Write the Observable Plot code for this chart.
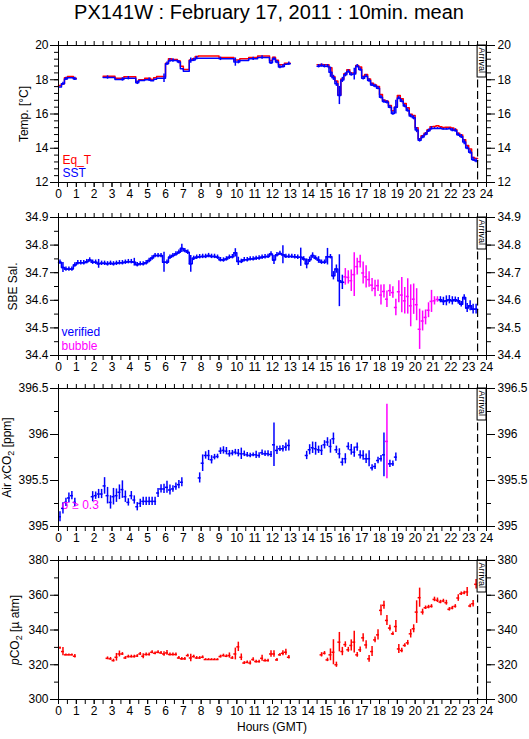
<!DOCTYPE html>
<html><head><meta charset="utf-8">
<script src="https://cdn.jsdelivr.net/npm/d3@7"></script>
<script src="https://cdn.jsdelivr.net/npm/@observablehq/plot@0.6"></script>
<style>
body{margin:0;background:#fff;}
#chart{position:relative;width:529px;height:739px;font-family:"Liberation Sans",Arial,Helvetica,sans-serif;color:#000;overflow:hidden;}
.panel{position:absolute;left:0;}
#title{position:absolute;left:0;width:538px;top:0;text-align:center;font-size:20px;line-height:24px;}
#xlabel{position:absolute;left:0;width:544px;top:719px;text-align:center;font-size:12px;line-height:16px;}
</style></head>
<body><div id="chart">
<div id="title">PX141W : February 17, 2011 : 10min. mean</div>
<div id="xlabel">Hours (GMT)</div>
</div>
<script>
// ---- data: 10-minute means, index i = bin starting at i/6 hours (GMT) ----
const binHours = 1 / 6;
const arrivalHour = 23.5;

// Panel 1: temperatures [°C]
const eqT = [
  17.67, 17.76, 18.11, 18.19, 18.19, 18.09,
  null, null, null, null, null, null,
  null, null, null, 18.21, 18.21, 18.21,
  18.21, 18.09, 18.09, 18.09, 18.17, 18.17,
  18.17, 18.17, 17.9, 18.0, 18.0, 18.09,
  18.09, 18.02, 18.11, 18.19, 18.19, 18.19,
  18.97, 19.22, 19.18, 19.18, 19.09, 18.79,
  18.6, 18.6, 19.16, 19.22, 19.36, 19.38,
  19.38, 19.38, 19.38, 19.38, 19.38, 19.38,
  19.3, 19.3, 19.3, 19.3, 19.3, 19.16,
  19.16, 19.22, 19.22, 19.22, 19.3, 19.3,
  19.3, 19.38, 19.38, 19.38, 19.38, 19.12,
  19.32, 19.14, 18.87, 18.87, 18.97, 18.97,
  null, null, null, null, null, null,
  null, null, null, 18.87, 18.89, 18.87,
  18.87, 18.7, 18.19, 17.92, 17.12, 18.05,
  18.35, 18.58, 18.39, 18.4, 18.83, 18.75,
  18.21, 18.31, 18.05, 17.8, 17.7, 17.61,
  17.14, 16.81, 16.75, 16.5, 16.19, 16.4,
  17.08, 16.89, 16.61, 16.36, 15.99, 15.91,
  15.19, 14.55, 14.73, 14.88, 15.08, 15.25,
  15.27, 15.31, 15.25, 15.21, 15.23, 15.23,
  15.18, 15.1, 14.88, 14.77, 14.49, 14.16,
  13.95, 13.46, 13.4
];
const sst = [
  17.57, 17.76, 18.05, 18.11, 18.11, 18.05,
  null, null, null, null, null, null,
  null, null, null, 18.13, 18.13, 18.13,
  18.13, 18.02, 18.02, 18.02, 18.09, 18.09,
  18.09, 18.09, 17.82, 17.96, 17.96, 18.0,
  18.0, 17.94, 18.03, 18.09, 18.09, 18.09,
  18.93, 19.12, 19.12, 19.12, 19.03, 18.64,
  18.5, 18.5, 19.12, 19.16, 19.26, 19.26,
  19.26, 19.26, 19.26, 19.26, 19.26, 19.26,
  19.22, 19.22, 19.22, 19.22, 19.22, 19.03,
  19.03, 19.12, 19.12, 19.12, 19.22, 19.22,
  19.22, 19.3, 19.3, 19.3, 19.3, 18.99,
  19.22, 19.03, 18.74, 18.78, 18.91, 18.93,
  null, null, null, null, null, null,
  null, null, null, 18.79, 18.83, 18.79,
  18.79, 18.44, 18.11, 17.76, 17.08, 17.99,
  18.29, 18.48, 18.31, 18.33, 18.79, 18.6,
  18.09, 18.21, 17.96, 17.7, 17.63, 17.51,
  16.98, 16.73, 16.69, 16.4, 16.03, 16.4,
  16.93, 16.75, 16.46, 16.21, 15.88, 15.78,
  15.06, 14.46, 14.65, 14.82, 15.02, 15.16,
  15.16, 15.16, 15.16, 15.12, 15.12, 15.14,
  15.06, 15.04, 14.79, 14.69, 14.36, 14.01,
  13.77, 13.35, 13.27
];
const sstSd = [
  0, 0.1, 0.1, 0, 0, 0.1,
  0, 0, 0, 0, 0, 0,
  0, 0, 0, 0, 0.1, 0,
  0, 0, 0, 0.1, 0, 0.1,
  0, 0, 0.1, 0, 0, 0,
  0.1, 0, 0, 0, 0, 0.25,
  0.1, 0.1, 0.1, 0, 0.1, 0,
  0, 0, 0.15, 0.1, 0.1, 0,
  0, 0, 0, 0, 0, 0,
  0.1, 0, 0, 0, 0, 0.24,
  0.1, 0, 0, 0, 0, 0.1,
  0, 0, 0.1, 0, 0, 0.1,
  0.1, 0.1, 0.1, 0.1, 0, 0.1,
  0, 0, 0, 0, 0, 0,
  0, 0, 0, 0.1, 0.1, 0.1,
  0.1, 0.3, 0.15, 0.15, 0.53, 0.15,
  0.12, 0.1, 0.1, 0.34, 0.1, 0.1,
  0.1, 0.1, 0.1, 0.1, 0.1, 0.1,
  0.1, 0.1, 0.1, 0.1, 0.1, 0.4,
  0.1, 0.1, 0.1, 0.1, 0.1, 0.12,
  0.15, 0.1, 0.1, 0.1, 0.1, 0.1,
  0.05, 0.05, 0.05, 0.05, 0.05, 0.05,
  0.1, 0.1, 0.1, 0.12, 0.15, 0.1,
  0.12, 0.12, 0.12
];

// Panel 2: SBE salinity
const salinity = [
  34.738, 34.719, 34.713, 34.713, 34.713, 34.728,
  34.736, 34.736, 34.736, 34.740, 34.746, 34.738,
  34.738, 34.732, 34.734, 34.734, 34.732, 34.734,
  34.732, 34.734, 34.736, 34.736, 34.738, 34.740,
  34.740, 34.738, 34.729, 34.732, 34.732, 34.736,
  34.744, 34.753, 34.762, 34.762, 34.762, 34.738,
  34.738, 34.756, 34.762, 34.768, 34.774, 34.788,
  34.780, 34.774, 34.732, 34.752, 34.756, 34.758,
  34.759, 34.759, 34.762, 34.759, 34.759, 34.756,
  34.747, 34.746, 34.750, 34.756, 34.758, 34.772,
  34.741, 34.741, 34.747, 34.747, 34.750, 34.750,
  34.752, 34.753, 34.756, 34.758, 34.759, 34.768,
  34.746, 34.765, 34.770, 34.765, 34.759, 34.759,
  34.759, 34.758, 34.756, 34.756, 34.750, 34.732,
  34.747, 34.762, 34.753, 34.746, 34.738, 34.738,
  34.758, 34.758, 34.689, 34.713, 34.671, 34.665,
  34.685, 34.683, 34.671, 34.693, 34.722, 34.740,
  34.699, 34.685, 34.675, 34.655, 34.643, 34.653,
  34.619, 34.632, 34.604, 34.635, 34.628, 34.574,
  34.631, 34.619, 34.598, 34.614, 34.580, 34.604,
  34.584, 34.495, 34.525, 34.538, 34.564, 34.596,
  34.598, 34.603, 34.602, 34.596, 34.598, 34.602,
  34.598, 34.602, 34.598, 34.586, 34.610, 34.572,
  34.580, 34.568, 34.568
];
const salSd = [
  0.008, 0.018, 0.008, 0.008, 0.008, 0.008,
  0.008, 0.008, 0.008, 0.008, 0.008, 0.008,
  0.008, 0.016, 0.008, 0.008, 0.008, 0.008,
  0.008, 0.008, 0.008, 0.008, 0.008, 0.008,
  0.008, 0.014, 0.008, 0.008, 0.008, 0.008,
  0.008, 0.008, 0.008, 0.008, 0.008, 0.036,
  0.008, 0.008, 0.008, 0.008, 0.008, 0.015,
  0.008, 0.008, 0.03, 0.008, 0.008, 0.008,
  0.008, 0.008, 0.008, 0.008, 0.008, 0.008,
  0.008, 0.008, 0.008, 0.008, 0.008, 0.015,
  0.015, 0.008, 0.008, 0.008, 0.008, 0.008,
  0.008, 0.008, 0.008, 0.008, 0.008, 0.008,
  0.016, 0.008, 0.008, 0.033, 0.008, 0.008,
  0.008, 0.008, 0.008, 0.033, 0.008, 0.018,
  0.01, 0.01, 0.008, 0.012, 0.008, 0.008,
  0.03, 0.008, 0.015, 0.015, 0.094, 0.026,
  0.03, 0.024, 0.039, 0.079, 0.03, 0.023,
  0.04, 0.04, 0.028, 0.024, 0.03, 0.021,
  0.036, 0.024, 0.03, 0.021, 0.021, 0.03,
  0.04, 0.064, 0.048, 0.064, 0.076, 0.055,
  0.058, 0.073, 0.036, 0.027, 0.027, 0.04,
  0.015, 0.01, 0.011, 0.015, 0.018, 0.015,
  0.015, 0.01, 0.012, 0.01, 0.01, 0.016,
  0.018, 0.018, 0.018
];
const bubbleHours = [16.0, 21.33]; // samples flagged "bubble"

// Panel 3: atmospheric xCO2 [ppm]
const airXco2 = [
  395.106, 395.197, 395.262, 395.310, 395.335, 395.262,
  null, null, null, null, null, 395.324,
  395.335, 395.353, 395.353, 395.441, 395.335, 395.262,
  395.324, 395.335, 395.372, 395.401, 395.324, 395.262,
  395.335, 395.288, 395.215, 395.251, 395.273, 395.273,
  395.273, 395.273, 395.273, 395.364, 395.408, 395.408,
  395.426, 395.397, 395.408, 395.433, 395.455, 395.481,
  null, null, null, null, null, 395.528,
  395.688, 395.772, 395.772, 395.725, 395.754, 395.761,
  395.819, 395.827, 395.819, 395.790, 395.797, 395.808,
  395.797, 395.790, 395.790, 395.779, 395.772, 395.779,
  395.779, 395.772, 395.801, 395.790, 395.790, 395.783,
  395.888, 395.827, 395.845, 395.845, 395.863, 395.881,
  null, null, null, null, null, 395.772,
  395.834, 395.856, 395.845, 395.834, 395.827, 395.888,
  395.918, 395.870, 395.954, 395.834, 395.790, 395.699,
  395.736, 395.870, 395.834, 395.808, 395.863, 395.779,
  395.772, 395.736, 395.736, 395.637, 395.652, 395.717,
  395.736, 395.779, 395.925, 395.681, 395.681, 395.754
];
const airSd = [
  0.055, 0.06, 0.045, 0.055, 0.045, 0.045,
  0, 0, 0, 0, 0, 0.055,
  0.04, 0.05, 0.05, 0.09, 0.09, 0.073,
  0.09, 0.073, 0.08, 0.095, 0.062, 0.04,
  0.045, 0.045, 0.045, 0.045, 0.045, 0.045,
  0.045, 0.045, 0.045, 0.05, 0.045, 0.05,
  0.065, 0.055, 0.035, 0.04, 0.045, 0.05,
  0, 0, 0, 0, 0, 0.055,
  0.09, 0.04, 0.055, 0.045, 0.03, 0.025,
  0.036, 0.04, 0.04, 0.036, 0.03, 0.03,
  0.04, 0.062, 0.03, 0.025, 0.025, 0.02,
  0.04, 0.03, 0.03, 0.03, 0.033, 0.033,
  0.237, 0.044, 0.03, 0.036, 0.045, 0.06,
  0, 0, 0, 0, 0, 0.045,
  0.055, 0.062, 0.07, 0.04, 0.055, 0.045,
  0.047, 0.073, 0.062, 0.04, 0.055, 0.042,
  0.055, 0.04, 0.058, 0.055, 0.044, 0.045,
  0.051, 0.051, 0.087, 0.033, 0.033, 0.036,
  0.036, 0.237, 0.405, 0.04, 0.03, 0.044
];
const sigmaLimit = 0.3;

// Panel 4: seawater pCO2 [µatm]
const pco2 = [
  329.7, 327.6, 325.7, 325.7, 325.7, 324.9,
  null, null, null, null, null, null,
  null, null, null, null, 323.7, 323.4,
  322.4, 324.3, 326.2, 326.2, 323.9, 324.7,
  324.7, 324.7, 325.0, 326.2, 324.9, 325.9,
  325.9, 327.2, 326.6, 327.2, 326.8, 326.2,
  326.8, 325.9, 325.9, 325.9, 323.9, 323.4,
  323.4, 325.3, 323.9, 324.7, 323.9, 323.9,
  324.3, 323.0, 323.0, 323.0, 323.0, 323.0,
  324.7, 325.3, 324.9, 325.3, 323.9, 326.2,
  330.3, 324.3, 321.0, 321.4, 321.0, 323.0,
  321.8, 321.8, 323.7, 322.4, 322.4, 326.2,
  326.2, 322.8, 325.7, 326.6, 327.2, 324.3,
  null, null, null, null, null, null,
  null, null, null, null, 325.7, 326.6,
  322.8, 325.7, 327.2, 320.0, 333.0, 327.6,
  331.6, 328.6, 331.1, 333.0, 325.7, 328.6,
  335.5, 331.4, 323.4, 327.6, 334.3, 337.2,
  351.3, 354.2, 345.5, 341.1, 337.8, 342.0,
  329.1, 328.2, 331.1, 332.6, 337.8, 340.7,
  350.3, 358.6, 350.3, 352.8, 353.2, 353.6,
  357.6, 357.1, 356.1, 356.7, 355.7, 351.9,
  352.6, 353.6, 358.4, 360.9, 361.3, 361.9,
  353.8, 355.1, 366.3
];
const pco2Sd = [
  0.5, 2.4, 0.5, 0.5, 0.5, 1.0,
  0, 0, 0, 0, 0, 0,
  0, 0, 0, 0, 0.8, 0.8,
  0.8, 2.2, 1.7, 0.8, 0.8, 0.8,
  0.8, 0.8, 0.8, 0.8, 1.4, 0.8,
  0.8, 0.8, 0.8, 0.8, 0.8, 1.3,
  1.4, 0.8, 0.8, 0.8, 0.8, 0.8,
  0.8, 0.8, 2.2, 0.8, 0.8, 0.8,
  0.8, 0.5, 0.5, 0.5, 0.5, 0.5,
  0.8, 0.8, 0.8, 1.5, 0.8, 3.4,
  2.7, 1.9, 0.8, 0.8, 1.2, 1.0,
  0.8, 0.8, 1.7, 0.8, 0.8, 1.9,
  1.9, 0.8, 0.8, 1.4, 1.7, 1.0,
  0, 0, 0, 0, 0, 0,
  0, 0, 0, 0, 1.25, 1.0,
  1.0, 3.4, 7.2, 1.5, 5.6, 2.4,
  1.6, 1.4, 3.2, 6.3, 1.4, 1.6,
  2.4, 2.4, 1.9, 2.9, 1.6, 2.9,
  3.1, 2.3, 2.9, 1.7, 1.0, 3.4,
  2.6, 1.3, 1.0, 1.4, 2.4, 2.3,
  6.5, 5.5, 1.7, 1.0, 1.0, 1.0,
  1.3, 1.3, 1.0, 1.0, 1.4, 1.0,
  1.0, 1.0, 1.9, 1.0, 1.0, 2.6,
  1.0, 1.9, 2.7
];

// ---- helpers ----
const RED = "#ff0000", BLUE = "#0000ff", MAGENTA = "#ff00ff";
const FONT = '"Liberation Sans", Arial, Helvetica, sans-serif';
const LW = 1.5;
const records = (vals, sds) => vals.map((v, i) => ({t: i * binHours, v, sd: sds ? sds[i] : 0})).filter(d => d.v != null);
function stepPoints(recs) {
  const pts = [];
  recs.forEach((d, k) => {
    pts.push({t: d.t, v: d.v});
    const next = recs[k + 1];
    if (!next || Math.abs(next.t - d.t - binHours) > 1e-6) {
      pts.push({t: d.t + binHours, v: d.v});
      pts.push({t: d.t + binHours, v: NaN});
    }
  });
  return pts;
}
const crosses = (recs, color, w = LW) => [
  Plot.ruleY(recs, {y: "v", x1: "t", x2: d => d.t + binHours, stroke: color, strokeWidth: w}),
  Plot.ruleX(recs.filter(d => d.sd > 0), {x: d => d.t + binHours / 2, y1: d => d.v - d.sd, y2: d => d.v + d.sd, stroke: color, strokeWidth: w})
];
const ticksOf = (lo, hi, step) => d3.range(Math.round((hi - lo) / step) + 1).map(k => +(lo + k * step).toFixed(4));

function makePanel({top, frameH, domain, minorStep, majorStep, fmt, label, labelHtml, labelDx, marks}) {
  const halfHours = ticksOf(0, 24, 0.5), hours = ticksOf(0, 24, 1);
  const minor = ticksOf(domain[0], domain[1], minorStep), major = ticksOf(domain[0], domain[1], majorStep);
  const span = domain[1] - domain[0];
  const svg = Plot.plot({
    width: 529, height: 10 + frameH + 25,
    marginTop: 10, marginBottom: 25, marginLeft: 58, marginRight: 43,
    x: {domain: [0, 24]},
    y: {domain},
    style: {fontFamily: FONT, fontSize: "12px", color: "#000", background: "transparent", overflow: "visible"},
    marks: [
      ...marks,
      Plot.ruleX([arrivalHour], {stroke: "#000", strokeWidth: 1.2, strokeDasharray: "8,3.5"}),
      Plot.rect([0], {x1: arrivalHour, x2: 24, y1: domain[1], y2: domain[1] - span * 32 / frameH, fill: "#fff", stroke: "#000", strokeWidth: 1}),
      Plot.text(["Arrival"], {x: (arrivalHour + 24) / 2, frameAnchor: "top", dy: 2, rotate: 90, textAnchor: "start", lineAnchor: "middle", fontSize: 9}),
      Plot.frame({stroke: "#000", strokeWidth: 1}),
      Plot.axisX({anchor: "bottom", ticks: halfHours, tickSize: 5, tickFormat: () => "", label: null}),
      Plot.axisX({anchor: "bottom", ticks: hours, tickSize: 5, tickPadding: 2, tickFormat: d => String(d), label: null}),
      Plot.axisX({anchor: "top", ticks: halfHours, tickSize: 5, tickFormat: () => "", label: null}),
      Plot.axisY({anchor: "left", ticks: minor, tickSize: 4, tickFormat: () => "", label: null}),
      Plot.axisY({anchor: "left", ticks: major, tickSize: 8, tickPadding: 2, tickFormat: fmt, label: null}),
      Plot.axisY({anchor: "right", ticks: minor, tickSize: 4, tickFormat: () => "", label: null}),
      Plot.axisY({anchor: "right", ticks: major, tickSize: 8, tickPadding: 3, tickFormat: fmt, label: null}),
      Plot.text([label], {frameAnchor: "left", dx: labelDx, rotate: -90, textAnchor: "middle", lineAnchor: "middle", fontSize: 12})
    ]
  });
  if (labelHtml) {
    d3.select(svg).selectAll("text").filter(function () { return this.textContent === label; }).html(labelHtml);
  }
  svg.classList.add("panel");
  svg.style.position = "absolute";
  svg.style.left = "0px";
  svg.style.top = (top - 10) + "px";
  document.getElementById("chart").appendChild(svg);
}

// Panel 1
const eqRecs = records(eqT), sstRecs = records(sst, sstSd);
makePanel({
  top: 45, frameH: 137, domain: [12, 20], minorStep: 0.4, majorStep: 2, fmt: d => String(d),
  label: "Temp. [°C]", labelDx: -34,
  marks: [
    Plot.line(stepPoints(eqRecs), {x: "t", y: "v", curve: "step-after", stroke: RED, strokeWidth: LW}),
    Plot.line(stepPoints(sstRecs), {x: "t", y: "v", curve: "step-after", stroke: BLUE, strokeWidth: LW}),
    Plot.ruleX(sstRecs.filter(d => d.sd > 0), {x: d => d.t + binHours / 2, y1: d => d.v - d.sd, y2: d => d.v + d.sd, stroke: BLUE, strokeWidth: LW}),
    Plot.text(["Eq_T"], {frameAnchor: "bottom-left", dx: 4, dy: -19, fill: RED, textAnchor: "start", lineAnchor: "bottom", fontSize: 12}),
    Plot.text(["SST"], {frameAnchor: "bottom-left", dx: 4, dy: -6, fill: BLUE, textAnchor: "start", lineAnchor: "bottom", fontSize: 12})
  ]
});

// Panel 2
const salRecs = records(salinity, salSd);
const isBubble = d => d.t >= bubbleHours[0] - 1e-6 && d.t < bubbleHours[1];
const salVer = salRecs.filter(d => !isBubble(d)), salBub = salRecs.filter(isBubble);
makePanel({
  top: 217, frameH: 138, domain: [34.4, 34.9], minorStep: 0.05, majorStep: 0.1, fmt: d3.format(".1f"),
  label: "SBE Sal.", labelDx: -45,
  marks: [
    Plot.line(stepPoints(salVer), {x: "t", y: "v", curve: "step-after", stroke: BLUE, strokeWidth: LW}),
    ...crosses(salVer, BLUE),
    ...crosses(salBub, MAGENTA),
    Plot.text(["verified"], {frameAnchor: "bottom-left", dx: 3, dy: -20, fill: BLUE, textAnchor: "start", lineAnchor: "bottom", fontSize: 12}),
    Plot.text(["bubble"], {frameAnchor: "bottom-left", dx: 3, dy: -6, fill: MAGENTA, textAnchor: "start", lineAnchor: "bottom", fontSize: 12})
  ]
});

// Panel 3
const airRecs = records(airXco2, airSd);
makePanel({
  top: 388, frameH: 138, domain: [395, 396.5], minorStep: 0.25, majorStep: 0.5, fmt: d => String(d),
  label: "Air xCO₂ [ppm]", labelHtml: 'Air <tspan font-style="italic">x</tspan>CO<tspan font-size="9" dy="3">2</tspan><tspan dy="-3"> [ppm]</tspan>', labelDx: -51,
  marks: [
    ...crosses(airRecs.filter(d => d.sd < sigmaLimit), BLUE),
    ...crosses(airRecs.filter(d => d.sd >= sigmaLimit), MAGENTA),
    Plot.text(["σ ≥ " + sigmaLimit], {frameAnchor: "bottom-left", dx: 3, dy: -18, fill: MAGENTA, textAnchor: "start", lineAnchor: "bottom", fontSize: 12})
  ]
});

// Panel 4
const pRecs = records(pco2, pco2Sd);
makePanel({
  top: 560, frameH: 139, domain: [300, 380], minorStep: 10, majorStep: 20, fmt: d => String(d),
  label: "pCO₂ [µ atm]", labelHtml: '<tspan font-style="italic">p</tspan>CO<tspan font-size="9" dy="3">2</tspan><tspan dy="-3"> [µ atm]</tspan>', labelDx: -43,
  marks: [
    ...crosses(pRecs, RED)
  ]
});
</script>
</body></html>
